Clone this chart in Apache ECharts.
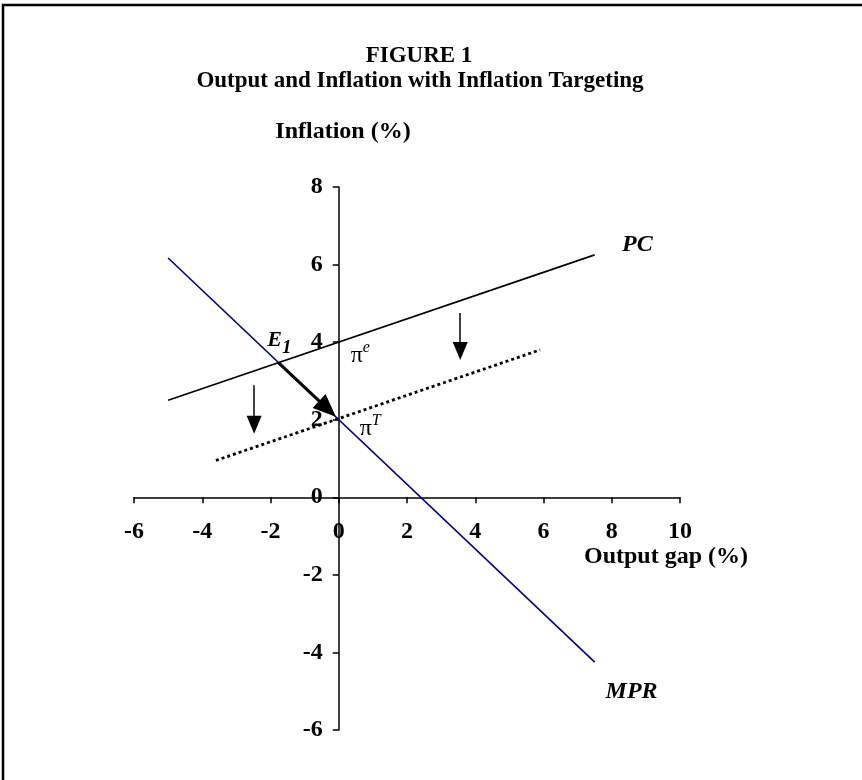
<!DOCTYPE html>
<html>
<head>
<meta charset="utf-8">
<script src="https://cdn.jsdelivr.net/npm/echarts@6/dist/echarts.min.js"></script>
<style>
  html, body { margin: 0; padding: 0; background: #fff; }
  #main { width: 862px; height: 780px; }
</style>
</head>
<body>
<div id="main"></div>
<script>
// 坐标轴范围
var xRange = [-6, 10];
var yRange = [-6, 8];
var tickStep = 2;

// 曲线数据
var pcLine = [[-5, 2.5], [7.5, 6.25]];
var pcTargetLine = [[-3.6, 0.95], [5.9, 3.8]];
var mprLine = [[-5, 6.17], [7.5, -4.25]];

// 箭头 (起点, 箭头中心)
var moveArrow = [[-1.77, 3.47], [-0.33, 2.28]];
var shiftArrows = [
  [[-2.48, 2.89], [-2.48, 1.87]],
  [[3.56, 4.75], [3.56, 3.77]]
];

// 标注
var noteText = ['{it|PC}', '{it|MPR}', '{e|E}{sub|1}', '{pi|π}{sup|e}', '{pi|π}{sup|T}'];
var notePos = [[8.75, 6.52], [8.58, -5.01], [-1.74, 3.96], [0.63, 3.69], [0.92, 1.82]];

var serif = '"Liberation Serif", "Times New Roman", serif';

var grid = { left: 134, right: 182, top: 187, bottom: 50 };
var gridW = 862 - grid.left - grid.right;
var gridH = 780 - grid.top - grid.bottom;

var chart = echarts.init(document.getElementById('main'), null, { renderer: 'canvas' });

function axisCommon() {
  return {
    type: 'value',
    interval: tickStep,
    splitLine: { show: false },
    axisLine: { show: true, onZero: false, lineStyle: { color: '#000', width: 1.5 } },
    axisTick: { show: true, length: 6, lineStyle: { color: '#000', width: 1.5 } },
    axisLabel: {
      color: '#000',
      fontFamily: serif,
      fontWeight: 'bold',
      fontSize: 24
    }
  };
}

// 坐标轴放在零点处
var xAxis = axisCommon();
xAxis.min = xRange[0];
xAxis.max = xRange[1];
xAxis.position = 'bottom';
xAxis.offset = -(0 - yRange[0]) / (yRange[1] - yRange[0]) * gridH;
xAxis.axisLabel.margin = 23;

var yAxis = axisCommon();
yAxis.min = yRange[0];
yAxis.max = yRange[1];
yAxis.position = 'left';
yAxis.offset = -(0 - xRange[0]) / (xRange[1] - xRange[0]) * gridW;
yAxis.axisLabel.margin = 16;

var arrowData = [[{ coord: moveArrow[0] }, { coord: moveArrow[1], symbolSize: [19, 23], lineStyle: { width: 3 } }]];
shiftArrows.forEach(function (a) {
  arrowData.push([{ coord: a[0] }, { coord: a[1], symbolSize: [15, 18], lineStyle: { width: 1.5 } }]);
});

var option = {
  backgroundColor: '#ffffff',
  animation: false,
  grid: grid,
  xAxis: xAxis,
  yAxis: yAxis,
  graphic: [
    {
      type: 'polyline',
      shape: { points: [[3, 780], [3, 5], [862, 5]] },
      style: { stroke: '#000', lineWidth: 2.5, fill: null }
    },
    {
      type: 'text', x: 419, y: 56,
      style: { text: 'FIGURE 1', font: 'bold 23px ' + serif, fill: '#000', align: 'center', verticalAlign: 'middle', textAlign: 'center', textVerticalAlign: 'middle' }
    },
    {
      type: 'text', x: 420, y: 81,
      style: { text: 'Output and Inflation with Inflation Targeting', font: 'bold 23px ' + serif, fill: '#000', align: 'center', verticalAlign: 'middle', textAlign: 'center', textVerticalAlign: 'middle' }
    },
    {
      type: 'text', x: 343, y: 132,
      style: { text: 'Inflation (%)', font: 'bold 24px ' + serif, fill: '#000', align: 'center', verticalAlign: 'middle', textAlign: 'center', textVerticalAlign: 'middle' }
    },
    {
      type: 'text', x: 666, y: 557,
      style: { text: 'Output gap (%)', font: 'bold 24px ' + serif, fill: '#000', align: 'center', verticalAlign: 'middle', textAlign: 'center', textVerticalAlign: 'middle' }
    }
  ],
  series: [
    {
      name: 'PC',
      type: 'line',
      data: pcLine,
      symbol: 'none',
      silent: true,
      lineStyle: { color: '#000', width: 1.6 }
    },
    {
      name: 'PC target',
      type: 'line',
      data: pcTargetLine,
      symbol: 'none',
      silent: true,
      lineStyle: { color: '#000', width: 2.8, type: [3, 3] }
    },
    {
      name: 'MPR',
      type: 'line',
      data: mprLine,
      symbol: 'none',
      silent: true,
      lineStyle: { color: '#000080', width: 1.6 }
    },
    {
      name: 'arrows',
      type: 'line',
      data: [],
      markLine: {
        silent: true,
        animation: false,
        symbol: ['none', 'triangle'],
        label: { show: false },
        lineStyle: { color: '#000', type: 'solid' },
        itemStyle: { color: '#000' },
        emphasis: { disabled: true },
        data: arrowData
      }
    },
    {
      name: 'notes',
      type: 'scatter',
      symbolSize: 0,
      silent: true,
      z: 10,
      itemStyle: { opacity: 1, color: '#000' },
      data: notePos.map(function (p, i) {
        return { value: p, label: { formatter: noteText[i] } };
      }),
      label: {
        show: true,
        position: 'inside',
        color: '#000',
        opacity: 1,
        fontFamily: serif,
        rich: {
          it: { fontSize: 24, fontStyle: 'italic', fontWeight: 'bold', fontFamily: serif, color: '#000' },
          e: { fontSize: 22, fontStyle: 'italic', fontWeight: 'bold', fontFamily: serif, color: '#000', lineHeight: 28, verticalAlign: 'top' },
          sub: { fontSize: 19, fontStyle: 'italic', fontWeight: 'bold', fontFamily: serif, color: '#000', lineHeight: 14, verticalAlign: 'bottom' },
          pi: { fontSize: 24, fontFamily: serif, color: '#000', lineHeight: 28, verticalAlign: 'bottom' },
          sup: { fontSize: 16, fontStyle: 'italic', fontFamily: serif, color: '#000', lineHeight: 14, verticalAlign: 'top' }
        }
      }
    }
  ]
};

chart.setOption(option);
</script>
</body>
</html>
